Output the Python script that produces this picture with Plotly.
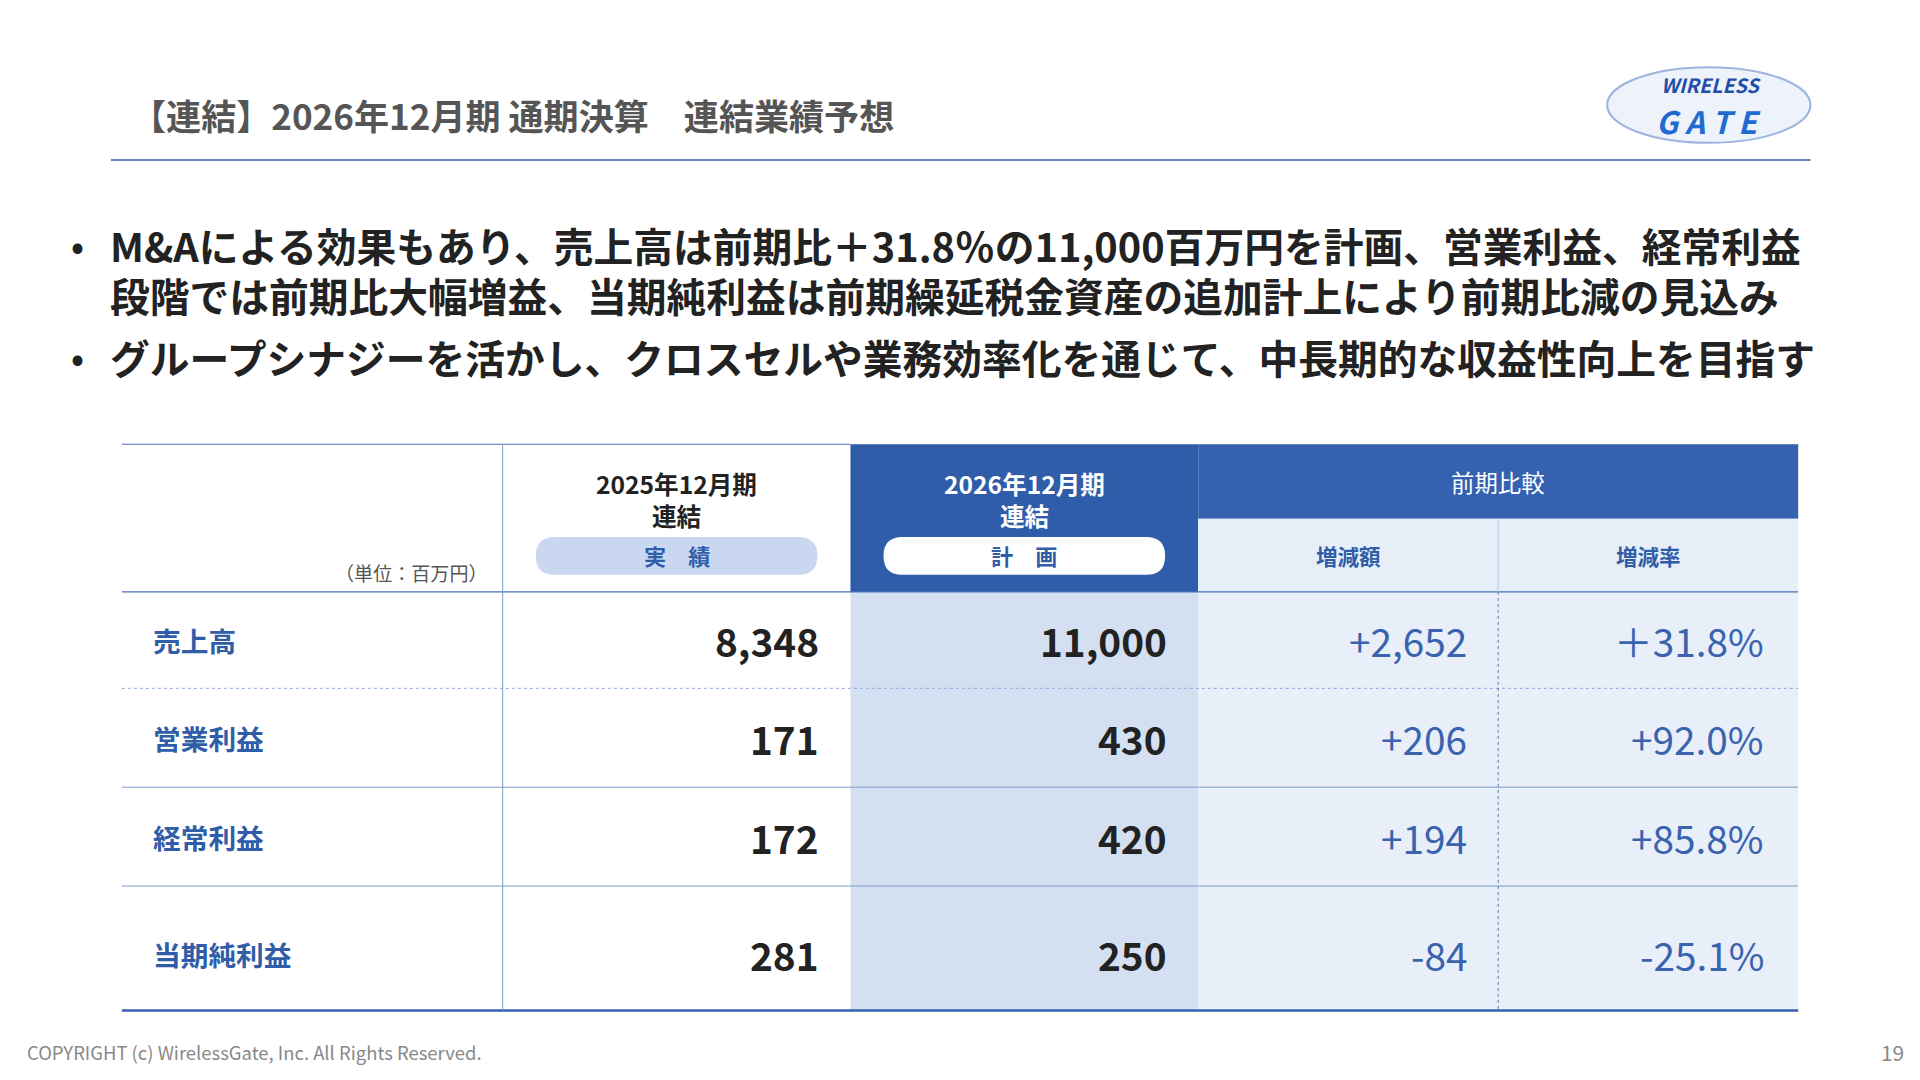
import plotly.graph_objects as go

title = "【連結】2026年12月期 通期決算　連結業績予想"
bullets = [
    "M&Aによる効果もあり、売上高は前期比＋31.8％の11,000百万円を計画、営業利益、経常利益",
    "段階では前期比大幅増益、当期純利益は前期繰延税金資産の追加計上により前期比減の見込み",
    "グループシナジーを活かし、クロスセルや業務効率化を通じて、中長期的な収益性向上を目指す",
]
row_labels = ["売上高", "営業利益", "経常利益", "当期純利益"]
actual_2025 = ["8,348", "171", "172", "281"]
plan_2026 = ["11,000", "430", "420", "250"]
diff_amt = ["+2,652", "+206", "+194", "-84"]
diff_rate = ["＋31.8%", "+92.0%", "+85.8%", "-25.1%"]
col_headers = ["2025年12月期", "2026年12月期"]
col_sub = ["連結", "連結"]
pill_labels = ["実　績", "計　画"]
group_header = "前期比較"
sub_headers = ["増減額", "増減率"]
unit_label = "（単位：百万円）"

W, H = 1568, 885
XOFF, YOFF = 6, 5.5
S = 1920 / 1560
FONT = "Noto Sans CJK JP"
BLUE = "#2F5DA8"
DARK = "#222222"

shapes, ann = [], []

def rect(x0, y0, x1, y1, color):
    shapes.append(dict(type="rect", x0=x0, x1=x1, y0=y0, y1=y1, fillcolor=color, line_width=0, layer="below"))

def line(x0, y0, x1, y1, color=BLUE, w=1.2, dash="solid"):
    shapes.append(dict(type="line", x0=x0, x1=x1, y0=y0, y1=y1, line=dict(color=color, width=w, dash=dash)))

def text(x, y, t, size, color=DARK, bold=False, xanchor="left", yanchor="middle"):
    if bold:
        t = "<b>" + t + "</b>"
    ann.append(dict(x=x, y=y, text=t, showarrow=False, xanchor=xanchor, yanchor=yanchor,
                    font=dict(family=FONT, size=size * S, color=color), xref="x", yref="y"))

def pill(x0, y0, x1, y1, color):
    r = (y1 - y0) / 2
    p = (f"M{x0+r},{y0} L{x1-r},{y0} Q{x1},{y0} {x1},{y0+r} Q{x1},{y1} {x1-r},{y1} "
         f"L{x0+r},{y1} Q{x0},{y1} {x0},{y0+r} Q{x0},{y0} {x0+r},{y0} Z")
    shapes.append(dict(type="path", path=p, fillcolor=color, line_width=0))

# header
text(105, 93, title, 28.5, "#555555", bold=True)
line(90, 130, 1478, 130, BLUE, 1.5)
shapes.append(dict(type="circle", x0=1312, x1=1478, y0=54, y1=116, line=dict(color="#9DB4E0", width=2), fillcolor="#EEF2FA"))
text(1397, 68, "<i>WIRELESS</i>", 16, "#1F4EA8", bold=True, xanchor="center")
text(1395, 98, "<i>G A T E</i>", 25, "#1F6BD0", bold=True, xanchor="center")

# bullets
by = [199, 240, 291]
for i, b in enumerate(bullets):
    if i != 1:
        text(63, by[i], "•", 28, DARK, bold=True, xanchor="center")
    text(88, by[i], b, 32.3, DARK, bold=True)

# table geometry
cx = [99, 410, 694, 978, 1223, 1468]
ry = [363, 484, 563, 644, 725, 827]
hmid = 424

rect(cx[2], ry[0], cx[3], ry[1], "#2F5DAA")
rect(cx[3], ry[0], cx[5], hmid, "#3462B0")
rect(cx[3], hmid, cx[5], ry[1], "#E6EEF8")
rect(cx[2], ry[1], cx[3], ry[-1], "#D4E0F2")
rect(cx[3], ry[1], cx[5], ry[-1], "#E8EFF9")

line(cx[0], ry[0], cx[2], ry[0], "#4A72B8", 1.2)
line(cx[0], ry[1], cx[5], ry[1], "#4A72B8", 1.2)
line(cx[0], ry[2], cx[5], ry[2], "#8FA8D4", 1, "dot")
for y in ry[3:5]:
    line(cx[0], y, cx[5], y, "#7E9ACD", 1)
line(cx[0], ry[-1], cx[5], ry[-1], "#3462B0", 2.5)
line(cx[1], ry[0], cx[1], ry[-1], "#7E9ACD", 1)
line(cx[4], hmid, cx[4], ry[1], "#B7C8E6", 1)
line(cx[4], ry[1], cx[4], ry[-1], "#3462B0", 0.8, "dot")

# headers
hcols = [(cx[1], cx[2]), (cx[2], cx[3])]
for i, (a, b) in enumerate(hcols):
    mid = (a + b) / 2
    on_blue = i == 1
    c = "white" if on_blue else DARK
    text(mid, 395, col_headers[i], 20, c, bold=True, xanchor="center")
    text(mid, 421, col_sub[i], 20, c, bold=True, xanchor="center")
    pill(a + 27, 439, b - 27, 470, "white" if on_blue else "#C9D8F0")
    text(mid, 454, pill_labels[i], 18, BLUE, bold=True, xanchor="center")
text(cx[1] - 10, 468, unit_label, 15.5, "#555555", xanchor="right")
text((cx[3] + cx[5]) / 2, 394, group_header, 19, "white", xanchor="center")
for i, sh in enumerate(sub_headers):
    text((cx[3 + i] + cx[4 + i]) / 2, 454, sh, 17.5, BLUE, bold=True, xanchor="center")

# body
for r in range(len(row_labels)):
    ym = (ry[r + 1] + ry[r + 2]) / 2 + (5 if r == 3 else 0)
    text(123, ym, row_labels[r], 22.5, BLUE, bold=True)
    text(cx[2] - 24, ym, actual_2025[r], 31.5, DARK, bold=True, xanchor="right")
    text(cx[3] - 24, ym, plan_2026[r], 31.5, DARK, bold=True, xanchor="right")
    text(cx[4] - 24, ym, diff_amt[r], 31.5, "#3A63AE", xanchor="right")
    text(cx[5] - 26, ym, diff_rate[r], 31.5, "#3A63AE", xanchor="right")

text(20, 861, "COPYRIGHT (c) WirelessGate, Inc. All Rights Reserved.", 15, "#888888")
text(1556, 861, "19", 17, "#888888", xanchor="right")

fig = go.Figure()
fig.update_layout(width=1920, height=1080, margin=dict(l=0, r=0, t=0, b=0),
                  plot_bgcolor="white", paper_bgcolor="white", shapes=shapes, annotations=ann,
                  xaxis=dict(range=[XOFF, W + XOFF], visible=False, fixedrange=True),
                  yaxis=dict(range=[H + YOFF, YOFF], visible=False, fixedrange=True), showlegend=False)
fig.write_html("out.html", config={"displayModeBar": False})
